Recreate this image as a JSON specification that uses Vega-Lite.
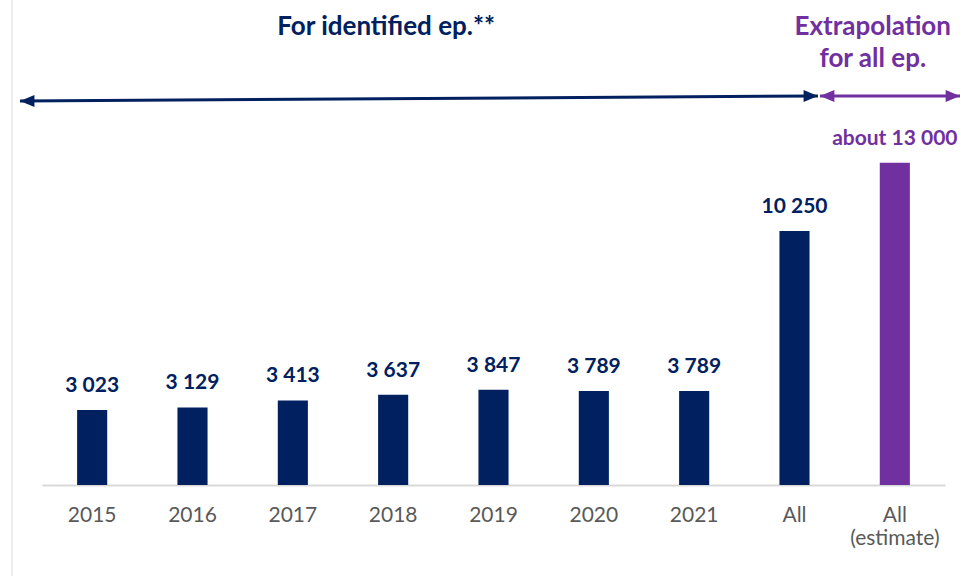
{
  "$schema": "https://vega.github.io/schema/vega-lite/v6.json",
  "width": 903,
  "height": 485,
  "autosize": {"type": "none"},
  "padding": {"left": 42, "top": 0, "right": 18, "bottom": 91},
  "background": "white",
  "config": {"view": {"stroke": null}, "font": "Lato"},
  "datasets": {
    "bars": [
      {"category": "2015", "value": 3023, "label": "3 023", "group": "identified"},
      {"category": "2016", "value": 3129, "label": "3 129", "group": "identified"},
      {"category": "2017", "value": 3413, "label": "3 413", "group": "identified"},
      {"category": "2018", "value": 3637, "label": "3 637", "group": "identified"},
      {"category": "2019", "value": 3847, "label": "3 847", "group": "identified"},
      {"category": "2020", "value": 3789, "label": "3 789", "group": "identified"},
      {"category": "2021", "value": 3789, "label": "3 789", "group": "identified"},
      {"category": "All", "value": 10250, "label": "10 250", "group": "identified"},
      {"category": "All (estimate)", "value": 13000, "label": "about 13 000", "group": "estimate"}
    ],
    "arrows": [
      {"seg": "identified", "pos": -0.219, "y": 15495, "group": "identified"},
      {"seg": "identified", "pos": 7.734, "y": 15697, "group": "identified"},
      {"seg": "extrap", "pos": 7.754, "y": 15697, "group": "estimate"},
      {"seg": "extrap", "pos": 9.15, "y": 15697, "group": "estimate"}
    ],
    "heads": [
      {"pos": -0.219, "y": 15495, "dir": "left", "group": "identified"},
      {"pos": 7.734, "y": 15697, "dir": "right", "group": "identified"},
      {"pos": 7.754, "y": 15697, "dir": "left", "group": "estimate"},
      {"pos": 9.15, "y": 15697, "dir": "right", "group": "estimate"}
    ],
    "notes": [
      {"text": "For identified ep.**", "pos": 3.43, "y": 18160, "group": "identified"},
      {"text": "Extrapolation", "pos": 8.28, "y": 18160, "group": "estimate"},
      {"text": "for all ep.", "pos": 8.28, "y": 16867, "group": "estimate"}
    ],
    "frame": [
      {"pos": -0.299, "y": -3700, "y2": 19570}
    ]
  },
  "layer": [
    {
      "data": {"name": "bars"},
      "mark": {"type": "bar"},
      "encoding": {
        "x": {
          "field": "category", "type": "nominal", "sort": null,
          "scale": {"paddingInner": 0.7, "paddingOuter": 0.35},
          "axis": {
            "title": null, "ticks": false, "domainColor": "#D9D9D9", "domainWidth": 2,
            "labelAngle": 0, "labelFontSize": 21, "labelColor": "#595959", "labelFont": "Lato",
            "labelPadding": 19, "labelLineHeight": 23,
            "labelExpr": "datum.value === 'All (estimate)' ? ['All', '(estimate)'] : datum.value"
          }
        },
        "y": {"field": "value", "type": "quantitative", "scale": {"domain": [0, 19570], "nice": false}, "axis": null},
        "color": {"field": "group", "type": "nominal", "scale": {"domain": ["identified", "estimate"], "range": ["#002060", "#7030A0"]}, "legend": null}
      }
    },
    {
      "data": {"name": "bars"},
      "mark": {"type": "text", "dy": -18, "baseline": "alphabetic", "fontWeight": "bold", "fontSize": 21, "font": "Lato"},
      "encoding": {
        "x": {"field": "category", "type": "nominal", "sort": null, "scale": {"paddingInner": 0.7, "paddingOuter": 0.35}, "axis": null},
        "y": {"field": "value", "type": "quantitative", "scale": {"domain": [0, 19570], "nice": false}, "axis": null},
        "text": {"field": "label"},
        "color": {"field": "group", "type": "nominal", "legend": null}
      }
    },
    {
      "data": {"name": "frame"},
      "mark": {"type": "rule", "color": "#D9D9D9", "strokeWidth": 1, "clip": false},
      "encoding": {
        "x": {"field": "pos", "type": "quantitative", "scale": {"domain": [0, 9], "nice": false, "zero": false}, "axis": null},
        "y": {"field": "y", "type": "quantitative", "scale": {"domain": [0, 19570], "nice": false}, "axis": null},
        "y2": {"field": "y2"}
      }
    },
    {
      "data": {"name": "arrows"},
      "mark": {"type": "line", "strokeWidth": 3},
      "encoding": {
        "x": {"field": "pos", "type": "quantitative", "scale": {"domain": [0, 9], "nice": false, "zero": false}, "axis": null},
        "y": {"field": "y", "type": "quantitative", "scale": {"domain": [0, 19570], "nice": false}, "axis": null},
        "detail": {"field": "seg"},
        "color": {"field": "group", "type": "nominal", "legend": null}
      }
    },
    {
      "data": {"name": "heads"},
      "mark": {"type": "point", "filled": true, "opacity": 1, "size": 144, "strokeWidth": 0},
      "encoding": {
        "x": {"field": "pos", "type": "quantitative", "scale": {"domain": [0, 9], "nice": false, "zero": false}, "axis": null},
        "y": {"field": "y", "type": "quantitative", "scale": {"domain": [0, 19570], "nice": false}, "axis": null},
        "shape": {"field": "dir", "type": "nominal", "scale": {"domain": ["left", "right"], "range": ["M0,0L2.4,-1L2.4,1Z", "M0,0L-2.4,-1L-2.4,1Z"]}, "legend": null},
        "color": {"field": "group", "type": "nominal", "legend": null}
      }
    },
    {
      "data": {"name": "notes"},
      "mark": {"type": "text", "baseline": "alphabetic", "fontWeight": "bold", "fontSize": 26, "font": "Lato"},
      "encoding": {
        "x": {"field": "pos", "type": "quantitative", "scale": {"domain": [0, 9], "nice": false, "zero": false}, "axis": null},
        "y": {"field": "y", "type": "quantitative", "scale": {"domain": [0, 19570], "nice": false}, "axis": null},
        "text": {"field": "text"},
        "color": {"field": "group", "type": "nominal", "legend": null}
      }
    }
  ],
  "resolve": {"scale": {"x": "independent"}}
}
